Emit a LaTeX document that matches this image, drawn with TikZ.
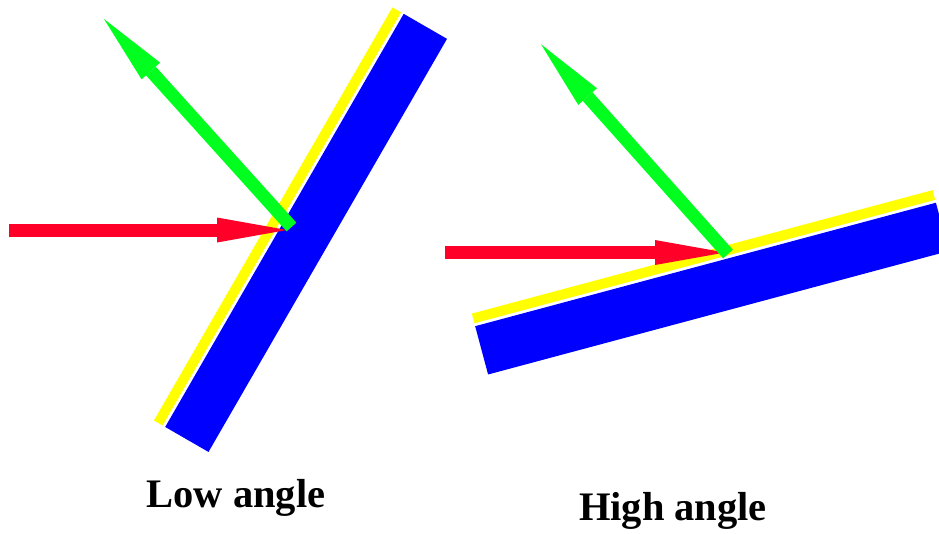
\documentclass[tikz,border=0pt]{standalone}
\usepackage{fontspec}
\setmainfont{Liberation Serif}
\usepackage{tikz}
\usetikzlibrary{arrows.meta}
\definecolor{beam}{RGB}{255,0,40}
\definecolor{echo}{RGB}{0,255,30}
\definecolor{film}{RGB}{255,255,0}
\definecolor{slab}{RGB}{0,0,255}

\begin{document}
\begin{tikzpicture}[
  x=1pt, y=-1pt,
  layer/.style={rectangle, inner sep=0pt, outer sep=0pt, minimum width=477pt},
  coatbox/.style={layer, fill=film, minimum height=10pt},
  slabbox/.style={layer, fill=slab, minimum height=50pt},
  ray/.style={line width=13pt, -{Triangle[length=70pt, width=25pt, line width=0pt]}},
  caption/.style={anchor=base, inner sep=0pt, font=\bfseries\fontsize{40.5}{46}\selectfont}
]
  \useasboundingbox (0,0) rectangle (939,533);

  \node[slabbox, rotate=60] (slabL) at (306.1,232.9) {};
  \node[coatbox, rotate=60] (filmL) at (277.5,216.4) {};
  \coordinate (inL) at (9,230);
  \coordinate (hitL) at (287,230);
  \coordinate (footL) at (291.5,227);
  \coordinate (outL) at (104,19);
  \draw[ray, beam] (inL) -- (hitL);
  \draw[ray, echo] (footL) -- (outL);
  \node[caption] (lowlbl) at (236,507.3) {Low angle};

  \node[slabbox, rotate=15] (slabR) at (712,288.6) {};
  \node[coatbox, rotate=15] (filmR) at (703.5,256.7) {};
  \coordinate (inR) at (445,252.5);
  \coordinate (hitR) at (725,252.5);
  \coordinate (footR) at (728,254);
  \coordinate (outR) at (541,44.3);
  \draw[ray, beam] (inR) -- (hitR);
  \draw[ray, echo] (footR) -- (outR);
  \node[caption] (highlbl) at (673,520) {High angle};
\end{tikzpicture}
\end{document}
